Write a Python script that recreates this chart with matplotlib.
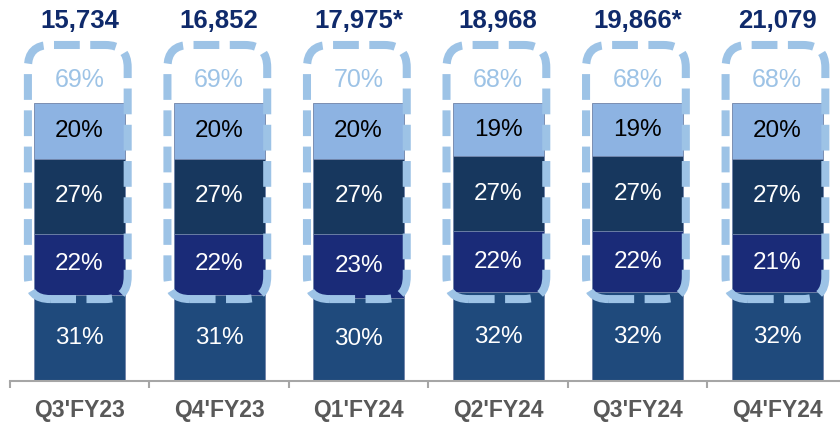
import matplotlib
matplotlib.use("Agg")
import matplotlib.pyplot as plt
from matplotlib.patches import FancyBboxPatch

plt.rcParams['font.family'] = ['Liberation Sans', 'DejaVu Sans']

categories = ["Q3'FY23", "Q4'FY23", "Q1'FY24", "Q2'FY24", "Q3'FY24", "Q4'FY24"]
total_labels = ["15,734", "16,852", "17,975*", "18,968", "19,866*", "21,079"]
seg1 = [31, 31, 30, 32, 32, 32]
seg2 = [22, 22, 23, 22, 22, 21]
seg3 = [27, 27, 27, 27, 27, 27]
seg4 = [20, 20, 20, 19, 19, 20]
box_pct = [69, 69, 70, 68, 68, 68]

segments = [seg1, seg2, seg3, seg4]
colors = ["#1F4A7C", "#1A2B78", "#17375E", "#8DB3E2"]
text_colors = ["white", "white", "white", "black"]

fig = plt.figure(figsize=(8.4, 4.23), dpi=100)
ax = fig.add_axes([0, 0.0993, 1, 0.9007])
ax.set_xlim(-0.57, 5.45)
ax.set_ylim(0, 137.2)

x = list(range(len(categories)))
width = 0.652
bottoms = [0] * len(categories)
for seg, col, tc in zip(segments, colors, text_colors):
    ax.bar(x, seg, width, bottom=bottoms, color=col, edgecolor="#6F82A8",
           linewidth=0.6, zorder=2)
    for xi, b, v in zip(x, bottoms, seg):
        ax.text(xi, b + v / 2, f"{v}%", ha="center", va="center",
                fontsize=17.5, color=tc, zorder=4)
    bottoms = [b + v for b, v in zip(bottoms, seg)]

# dashed rounded boxes
px_x = 139.6
px_y = 2.777
aspect = px_x / px_y
for xi, s1, p in zip(x, seg1, box_pct):
    x0 = xi - 0.37
    x1 = xi + 0.345
    y0 = 29.5
    y1 = 121.0
    patch = FancyBboxPatch((x0, y0), x1 - x0, y1 - y0,
                           boxstyle="round,pad=0,rounding_size=0.16",
                           mutation_aspect=aspect,
                           facecolor="none", edgecolor="#9DC3E6",
                           linewidth=5.8, linestyle=(0, (3.2, 1.3)),
                           zorder=3, transform=ax.transData)
    ax.add_patch(patch)
    ax.text(xi, 108.5, f"{p}%", ha="center", va="center", fontsize=18,
            color="#9DC3E6", zorder=4)

for xi, t in zip(x, total_labels):
    ax.text(xi, 129.6, t, ha="center", va="center", fontsize=18.5,
            fontweight="bold", color="#0F2A6B", zorder=4)

for s in ["top", "right", "left"]:
    ax.spines[s].set_visible(False)
ax.spines["bottom"].set_color("#A6A6A6")
ax.spines["bottom"].set_linewidth(1.5)
ax.spines["bottom"].set_bounds(-0.5, 5.45)
ax.set_yticks([])
ax.set_xticks([i - 0.5 for i in range(len(categories))])
ax.set_xticklabels([])
ax.tick_params(axis="x", direction="out", length=5, width=1.5, color="#A6A6A6")

for xi, c in zip(x, categories):
    ax.text(xi, -10.6, c, ha="center", va="center", fontsize=16.5,
            fontweight="bold", color="#595959", clip_on=False)

fig.savefig("out.png", dpi=100)
